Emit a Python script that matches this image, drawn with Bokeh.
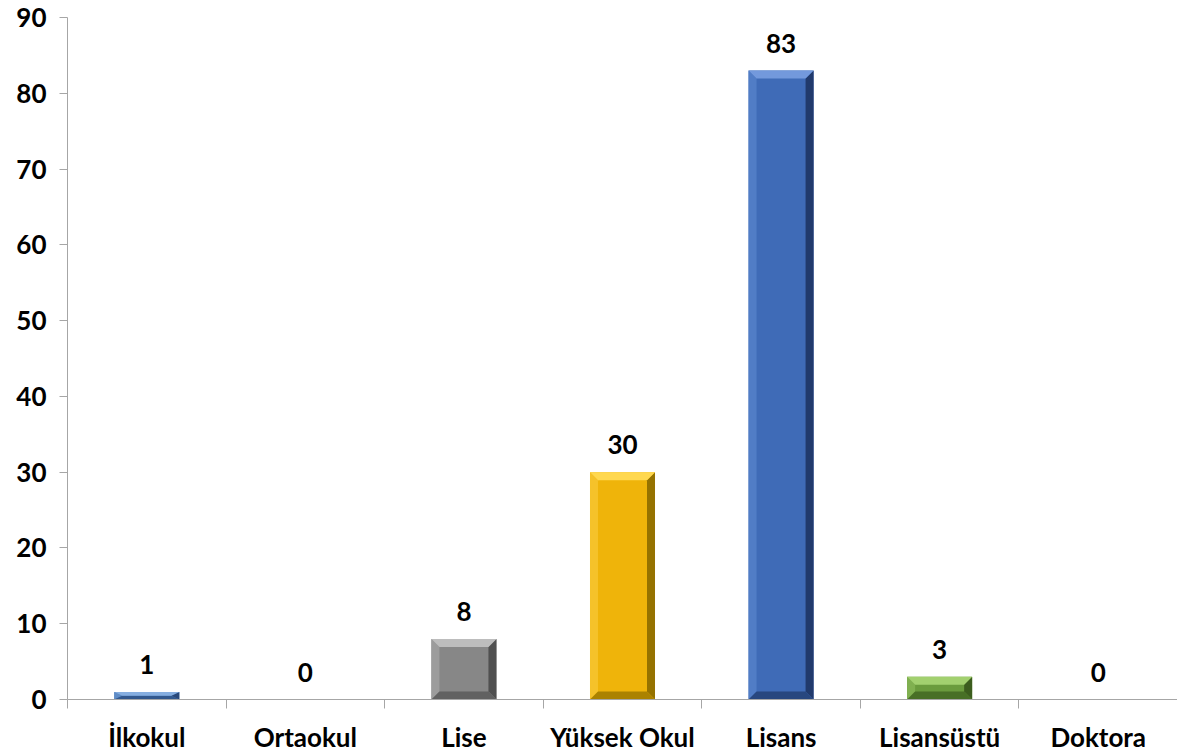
from bokeh.plotting import figure
from bokeh.models import Range1d, FixedTicker, ColumnDataSource
from bokeh.core.properties import value
from bokeh.embed import file_html
from bokeh.resources import INLINE

categories = ["İlkokul", "Ortaokul", "Lise", "Yüksek Okul", "Lisans", "Lisansüstü", "Doktora"]
counts = [1, 0, 8, 30, 83, 3, 0]
y_ticks = [0, 10, 20, 30, 40, 50, 60, 70, 80, 90]

# styles (not data)
base_colors = ["#4a7dbb", "#4a7dbb", "#878787", "#efb40a", "#3f6bb7", "#6a9b3d", "#6a9b3d"]
top_colors = ["#86aee0", "#86aee0", "#bdbdbd", "#ffd84f", "#7399dc", "#a2d06f", "#a2d06f"]
left_colors = ["#5f8cc6", "#5f8cc6", "#9c9c9c", "#f5c22a", "#517dc6", "#80b050", "#80b050"]
right_colors = ["#29487a", "#29487a", "#505050", "#957200", "#213a6c", "#3c5d1e", "#3c5d1e"]
bottom_colors = ["#32588e", "#32588e", "#616161", "#ab8200", "#28477f", "#486f26", "#486f26"]

FONT = "Lato"
FSIZE = "26px"
n = len(categories)
frame_w, frame_h = 1110, 682
y_max = 90
bar_w = 0.41
bev_px = 8
bx = bev_px / (frame_w / n)
by_unit = bev_px / (frame_h / y_max)

p = figure(width=1177, height=750, output_backend="svg", toolbar_location=None,
           x_range=Range1d(0, n), y_range=Range1d(0, y_max),
           frame_width=frame_w, frame_height=frame_h,
           min_border_left=67, min_border_right=0, min_border_top=17, min_border_bottom=10)
p.outline_line_color = None
p.grid.visible = False
p.background_fill_color = "white"
p.border_fill_color = "white"

faces = {"x": [], "y": [], "c": []}
centers = [i + 0.5 for i in range(n)]
for i, v in enumerate(counts):
    if v <= 0:
        continue
    c = centers[i]
    x0, x1 = c - bar_w / 2, c + bar_w / 2
    by = min(by_unit, v / 2.0)
    faces["x"].append([x0, x1, x1, x0]); faces["y"].append([0, 0, v, v]); faces["c"].append(base_colors[i])
    faces["x"].append([x0, x0 + bx, x0 + bx, x0]); faces["y"].append([0, by, v - by, v]); faces["c"].append(left_colors[i])
    faces["x"].append([x1, x1 - bx, x1 - bx, x1]); faces["y"].append([0, by, v - by, v]); faces["c"].append(right_colors[i])
    faces["x"].append([x0, x1, x1 - bx, x0 + bx]); faces["y"].append([0, 0, by, by]); faces["c"].append(bottom_colors[i])
    faces["x"].append([x0, x1, x1 - bx, x0 + bx]); faces["y"].append([v, v, v - by, v - by]); faces["c"].append(top_colors[i])

p.patches("x", "y", source=ColumnDataSource(faces), fill_color="c", line_color=None)

lab = ColumnDataSource(dict(x=centers, y=counts, t=[str(v) for v in counts]))
p.text("x", "y", text="t", source=lab, text_align="center", text_baseline="bottom",
       y_offset=-18, text_font=value(FONT), text_font_style="bold", text_font_size=FSIZE,
       text_color="black")

axis_color = "#a6a6a6"
p.xaxis.ticker = FixedTicker(ticks=centers, minor_ticks=list(range(n + 1)))
p.xaxis.major_label_overrides = {c: categories[i] for i, c in enumerate(centers)}
p.xaxis.major_tick_line_color = None
p.xaxis.major_tick_out = 0
p.xaxis.major_tick_in = 0
p.xaxis.minor_tick_line_color = axis_color
p.xaxis.minor_tick_out = 9
p.xaxis.minor_tick_in = 0
p.xaxis.axis_line_color = axis_color
p.xaxis.major_label_standoff = 12
p.xaxis.major_label_text_font = FONT
p.xaxis.major_label_text_font_style = "bold"
p.xaxis.major_label_text_font_size = FSIZE
p.xaxis.major_label_text_color = "black"

p.yaxis.ticker = FixedTicker(ticks=y_ticks)
p.yaxis.minor_tick_line_color = None
p.yaxis.major_tick_line_color = axis_color
p.yaxis.major_tick_out = 8
p.yaxis.major_tick_in = 0
p.yaxis.axis_line_color = axis_color
p.yaxis.major_label_standoff = 13
p.yaxis.major_label_text_font = FONT
p.yaxis.major_label_text_font_style = "bold"
p.yaxis.major_label_text_font_size = FSIZE
p.yaxis.major_label_text_color = "black"

open("out.html", "w").write(file_html(p, INLINE))
